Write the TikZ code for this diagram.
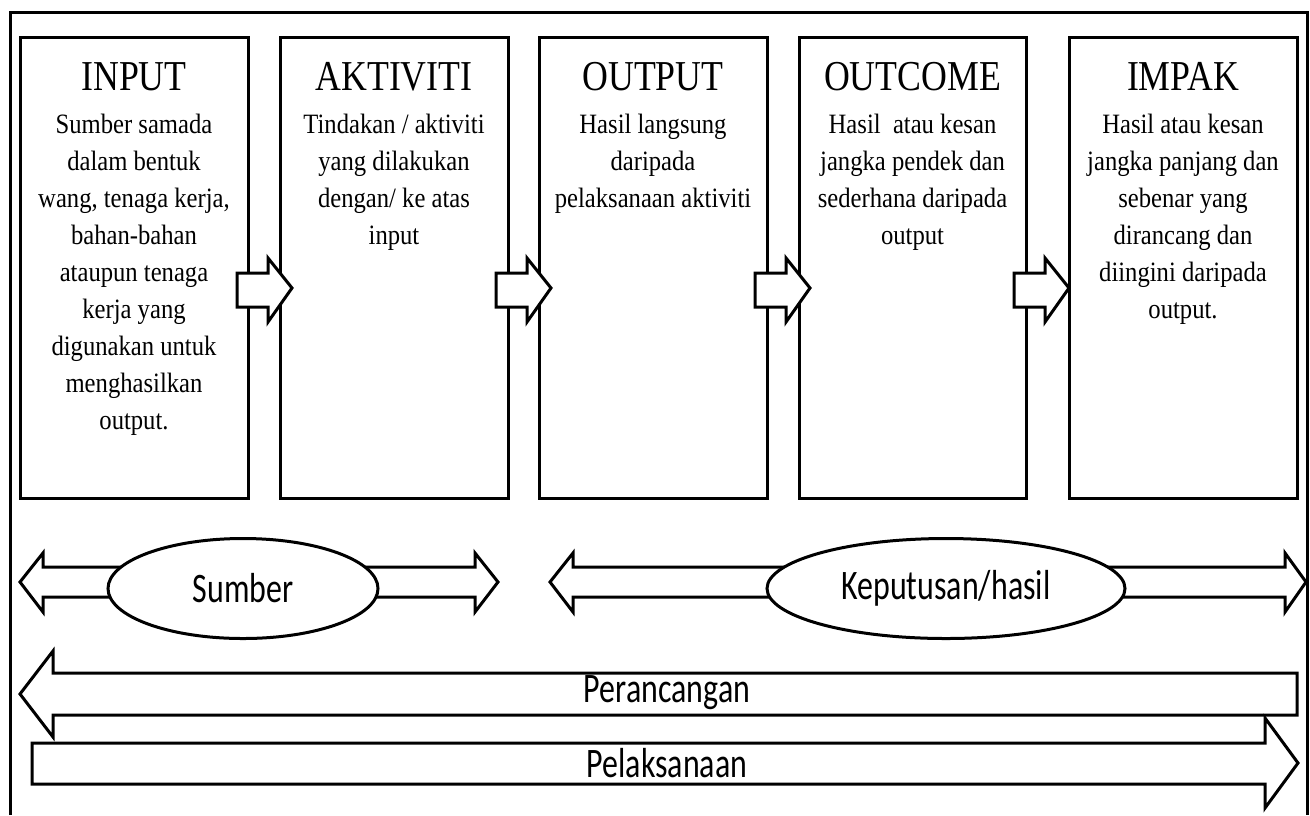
\documentclass[tikz,border=0pt]{standalone}
\usepackage{fontspec}
\setmainfont[FakeStretch=0.88]{Liberation Serif}
\newfontfamily\headfont[FakeStretch=0.84]{Liberation Serif}
\newfontfamily\bandfont[FakeStretch=0.76]{Carlito}
\usetikzlibrary{shapes.geometric}

\begin{document}
\begin{tikzpicture}[x=0.5pt, y=-0.5pt,
		stagebox/.style={draw=black, line width=1.5pt, fill=white},
		blockarrow/.style={draw=black, line width=1.5pt, fill=white, line join=miter},
		stagetitle/.style={anchor=north, inner sep=0pt, font=\headfont\fontsize{21.3}{25}\selectfont},
		stagetext/.style={anchor=north, inner sep=0pt, align=center, font=\fontsize{14}{18.5}\selectfont},
		oval/.style={ellipse, draw=black, line width=1.5pt, fill=white, inner sep=0pt,
			minimum width=135pt, minimum height=50pt, font=\bandfont\fontsize{21}{25}\selectfont},
		bandtext/.style={inner sep=0pt, font=\bandfont\fontsize{21}{25}\selectfont}]
		\useasboundingbox (0,0) rectangle (1310,815);
		% outer frame, open at the bottom
		\draw[draw=black, line width=1.5pt] (10,815) -- (10,12) -- (1307,12) -- (1307,815);

		% the five stages
		\draw[stagebox] (20,37) rectangle (248,498);
		\draw[stagebox] (280,37) rectangle (508,498);
		\draw[stagebox] (539,37) rectangle (767,498);
		\draw[stagebox] (799,37) rectangle (1026,498);
		\draw[stagebox] (1069,37) rectangle (1297,498);

		\node[stagetitle] (input) at (134,62) {INPUT};
		\node[stagetext] (inputtext) at (134,114) {Sumber samada\\dalam bentuk\\wang, tenaga kerja,\\bahan-bahan\\ataupun tenaga\\kerja yang\\digunakan untuk\\menghasilkan\\output.};
		\node[stagetitle] (aktiviti) at (394,62) {AKTIVITI};
		\node[stagetext] (aktivititext) at (394,114) {Tindakan / aktiviti\\yang dilakukan\\dengan/ ke atas\\input};
		\node[stagetitle] (output) at (653,62) {OUTPUT};
		\node[stagetext] (outputtext) at (653,114) {Hasil langsung\\daripada\\pelaksanaan aktiviti};
		\node[stagetitle] (outcome) at (912.5,62) {OUTCOME};
		\node[stagetext] (outcometext) at (912.5,114) {Hasil\ \ atau kesan\\jangka pendek dan\\sederhana daripada\\output};
		\node[stagetitle] (impak) at (1183,62) {IMPAK};
		\node[stagetext] (impaktext) at (1183,114) {Hasil atau kesan\\jangka panjang dan\\sebenar yang\\dirancang dan\\diingini daripada\\output.};

		% arrows between the stages
		\foreach \x in {237,496,755,1014}
			\draw[blockarrow] (\x,273) -- ++(31,0) -- ++(0,-15) -- ++(24,30) -- ++(-24,34)
				-- ++(0,-15) -- ++(-31,0) -- cycle;

		% sumber and keputusan
		\draw[blockarrow] (20,582) -- (43,553) -- (43,567) -- (475,567) -- (475,553) -- (498,582)
			-- (475,612) -- (475,597) -- (43,597) -- (43,612) -- cycle;
		\node[oval] (sumber) at (243,588.5) {Sumber};
		\draw[blockarrow] (550,582) -- (573,553) -- (573,567) -- (1285,567) -- (1285,553) -- (1306,582)
			-- (1285,612) -- (1285,597) -- (573,597) -- (573,612) -- cycle;
		\node[oval, minimum width=179pt] (keputusan) at (946,588.5) {Keputusan/hasil};

		% perancangan and pelaksanaan
		\draw[blockarrow] (20,694) -- (53,651) -- (53,673) -- (1297,673) -- (1297,715) -- (53,715)
			-- (53,737) -- cycle;
		\node[bandtext] (perancangan) at (667,693) {Perancangan};
		\draw[blockarrow] (32,743) -- (1265,743) -- (1265,718) -- (1298,763) -- (1265,808)
			-- (1265,784) -- (32,784) -- cycle;
		\node[bandtext] (pelaksanaan) at (667,763) {Pelaksanaan};
	\end{tikzpicture}
\end{document}
